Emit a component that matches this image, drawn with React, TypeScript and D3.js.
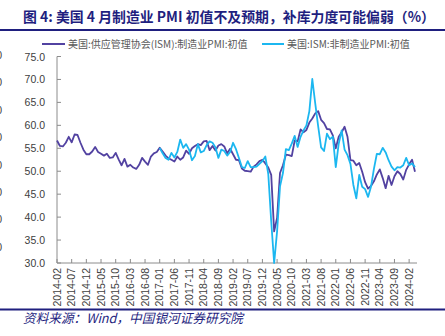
import React from "react";
import * as d3 from "d3";

const W = 445;
const H = 336;

const startMonth = "2014-02";
const servicesStart = "2017-01";

const manufacturing = [
  56.7, 55.5, 55.4, 56.2, 57.5, 56.3, 58.0, 57.9, 56.2, 54.7, 53.7,
  53.7, 54.3, 55.3, 54.2, 53.8, 53.4, 53.8, 52.9, 53.0, 54.0, 52.6, 51.3,
  52.7, 51.0, 51.4, 50.8, 50.5, 51.4, 52.9, 52.1, 51.4, 53.2, 53.9, 54.2,
  55.1, 54.3, 53.4, 52.8, 52.5, 52.1, 53.2, 52.5, 53.0, 54.5, 53.8, 55.0,
  55.5, 55.9, 55.7, 56.5, 56.6, 54.6, 55.5, 54.5, 55.6, 55.9, 55.4, 53.9,
  54.9, 53.7, 52.5, 52.4, 50.6, 50.1, 50.0, 49.9, 51.0, 51.5, 52.2, 52.5,
  51.7, 50.8, 49.2, 36.9, 39.8, 49.6, 51.3, 53.6, 53.5, 53.3, 56.7, 56.5,
  59.1, 58.5, 59.0, 60.6, 61.5, 62.6, 63.1, 61.2, 60.5, 59.2, 59.1, 57.8,
  55.0, 57.5, 58.5, 59.7, 57.5, 52.4, 52.3, 51.3, 51.8, 49.9, 47.6, 46.2,
  46.8, 47.8, 49.3, 50.4, 48.5, 46.3, 49.0, 47.0, 48.9, 50.0, 49.4, 48.2,
  50.3, 51.5, 52.5, 49.9,
];

const services = [
  55.1, 53.9, 52.9, 52.5, 54.0, 53.0, 54.2, 56.9, 55.1, 55.9, 54.7, 52.4,
  53.3, 55.9, 54.1, 54.4, 55.7, 56.5, 56.2, 55.2, 52.9, 54.7, 54.4, 53.4,
  54.2, 56.2, 54.8, 52.9, 50.9, 50.7, 52.2, 50.9, 50.9, 51.0, 51.6, 52.2,
  53.2, 49.4, 39.1, 27.0, 36.9, 46.7, 49.6, 54.8, 54.6, 56.0, 57.7, 55.3,
  57.5, 58.9, 60.0, 63.1, 70.1, 64.8, 59.8, 55.2, 54.4, 58.2, 57.0, 57.5,
  50.9, 56.0, 58.9, 54.7, 53.5, 51.6, 47.0, 44.1, 49.2, 46.6, 46.1, 44.4,
  46.6, 50.5, 53.8, 53.7, 55.1, 54.1, 52.4, 51.0, 50.2, 50.9, 50.8, 51.3,
  52.9, 51.3, 51.7, 50.9,
];

const yTicks = [30, 35, 40, 45, 50, 55, 60, 65, 70, 75];

const seriesNames = [
  "美国:供应管理协会(ISM):制造业PMI:初值",
  "美国:ISM:非制造业PMI:初值",
];
const title = "图 4: 美国 4 月制造业 PMI 初值不及预期，补库力度可能偏弱（%）";
const source = "资料来源：Wind，中国银河证券研究院";

const monthLabel = (base: string, offset: number) => {
  const [y, m] = base.split("-").map(Number);
  const t = y * 12 + (m - 1) + offset;
  const yy = Math.floor(t / 12);
  const mm = (t % 12) + 1;
  return `${yy}-${String(mm).padStart(2, "0")}`;
};

const months = manufacturing.map((_, i) => monthLabel(startMonth, i));
const servicesOffset = months.indexOf(servicesStart);

const NAVY = "#1f1f7f";
const PURPLE = "#5242a1";
const CYAN = "#1cb7f0";
const AXIS = "#8c8c8c";
const TXT = "#404040";
const FONT = "Arial, 'Liberation Sans', 'Noto Sans CJK SC', sans-serif";
const CJK = "'Noto Sans CJK SC', sans-serif";

export default function App() {
  const left = 57;
  const axisRight = 417;
  const top = 56.5;
  const bottom = 263;

  const x = d3.scalePoint<string>().domain(months).range([left, 415]);
  const y = d3.scaleLinear().domain([30, 75]).range([bottom, top]);

  const clampY = (v: number) => y(Math.max(30, v));
  const lineM = d3
    .line<number>()
    .x((_, i) => x(months[i]) as number)
    .y((d) => clampY(d));
  const lineS = d3
    .line<number>()
    .x((_, i) => x(months[i + servicesOffset]) as number)
    .y((d) => clampY(d));

  const tickMonths = months.filter((_, i) => i % 5 === 0);
  const leftEdgeYs = d3.range(8).map((i) => 55 + i * 27.4);

  return (
    <svg
      width={W}
      height={H}
      style={{ position: "absolute", left: 0, top: 0, background: "#fff" }}
    >
      <rect width={W} height={H} fill="#fff" />
      <text
        x={23}
        y={22}
        fontFamily={CJK}
        fontWeight={700}
        fontSize={13.8}
        fill={NAVY}
        textLength={412}
        lengthAdjust="spacingAndGlyphs"
      >
        {title}
      </text>
      <line x1={0} x2={W} y1={30} y2={30} stroke={NAVY} strokeWidth={2} />

      {/* legend */}
      <line x1={42} x2={65} y1={44} y2={44} stroke={PURPLE} strokeWidth={2} />
      <text x={68} y={47.5} fontFamily={CJK} fontSize={10} fill="#595959">
        {seriesNames[0]}
      </text>
      <line x1={262} x2={284} y1={44} y2={44} stroke={CYAN} strokeWidth={2} />
      <text x={287} y={47.5} fontFamily={CJK} fontSize={10} fill="#595959">
        {seriesNames[1]}
      </text>

      {/* cut-off glyphs at left edge, as in the reference */}
      {leftEdgeYs.map((yy, i) => (
        <text key={i} x={2} y={yy + 4} textAnchor="end" fontFamily={FONT} fontSize={10.5} fill={TXT}>
          0
        </text>
      ))}

      {/* y axis */}
      <line x1={left} x2={left} y1={top} y2={bottom} stroke={AXIS} strokeWidth={1} />
      {yTicks.map((t) => (
        <g key={t}>
          <line x1={left} x2={left + 4} y1={y(t)} y2={y(t)} stroke={AXIS} />
          <text
            x={45}
            y={y(t) + 4}
            textAnchor="end"
            fontFamily={FONT}
            fontSize={10.5}
            fill={TXT}
          >
            {t.toFixed(1)}
          </text>
        </g>
      ))}

      {/* x axis */}
      <line x1={left} x2={axisRight} y1={bottom} y2={bottom} stroke={AXIS} strokeWidth={1} />
      {tickMonths.map((m) => {
        const xx = x(m) as number;
        return (
          <g key={m}>
            <line x1={xx} x2={xx} y1={bottom} y2={bottom - 4} stroke={AXIS} />
            <text
              transform={`translate(${xx + 3.7},268) rotate(-90)`}
              textAnchor="end"
              fontFamily={FONT}
              fontSize={10.5}
              fill={TXT}
            >
              {m}
            </text>
          </g>
        );
      })}

      {/* lines */}
      <path d={lineM(manufacturing) || ""} fill="none" stroke={PURPLE} strokeWidth={1.8} strokeLinejoin="round" />
      <path d={lineS(services) || ""} fill="none" stroke={CYAN} strokeWidth={1.8} strokeLinejoin="round" />

      <line x1={0} x2={W} y1={309.5} y2={309.5} stroke={NAVY} strokeWidth={2} />
      <text
        x={23}
        y={323}
        fontFamily={CJK}
        fontStyle="italic"
        fontSize={13}
        fill={NAVY}
        textLength={220}
        lengthAdjust="spacingAndGlyphs"
      >
        {source}
      </text>
    </svg>
  );
}
